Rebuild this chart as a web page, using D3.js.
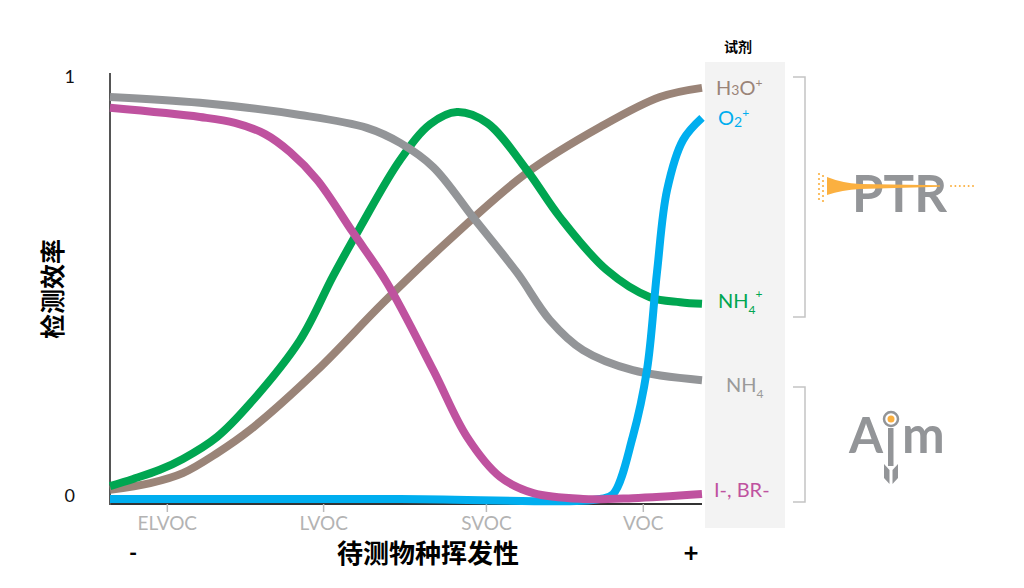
<!DOCTYPE html>
<html>
<head>
<meta charset="utf-8">
<script src="https://cdn.jsdelivr.net/npm/d3@7"></script>
<style>
  body { margin: 0; background: #fff; }
  text { font-family: Lato, "Noto Sans", sans-serif; }
  .cjk { font-family: "Noto Sans CJK SC", sans-serif; font-weight: 700; }
</style>
</head>
<body>
<div id="chart"></div>
<script>
var svgWidth = 1024;
var svgHeight = 588;

// volatility axis runs 0..100, efficiency 0..1
var categories = ["ELVOC", "LVOC", "SVOC", "VOC"];
var categoryPos = [9.6, 36, 63.5, 90];

var h3oX = [0, 6.8, 12.3, 18.1, 23.6, 35.0, 46.1, 56.9, 70.4, 82.8, 92.9, 100];
var h3oY = [0.022, 0.038, 0.062, 0.110, 0.165, 0.309, 0.470, 0.616, 0.782, 0.892, 0.964, 0.986];

var nh4pX = [0, 3.9, 8.4, 12.3, 18.1, 23.6, 32.1, 37.7, 42.2, 49.0, 54.1, 58.6, 63.7, 70.4, 76.0, 83.9, 91.2, 96.3, 100];
var nh4pY = [0.031, 0.048, 0.070, 0.096, 0.149, 0.228, 0.381, 0.535, 0.650, 0.813, 0.899, 0.928, 0.902, 0.789, 0.676, 0.549, 0.484, 0.472, 0.468];

var nh4X = [0, 15.2, 32.1, 43.4, 49.0, 54.6, 61.3, 68.8, 74.3, 79.9, 88.3, 100];
var nh4Y = [0.964, 0.950, 0.921, 0.890, 0.854, 0.796, 0.676, 0.542, 0.429, 0.357, 0.309, 0.285];

var o2X = [0, 49.0, 82.8, 85.0, 88.3, 90.7, 92.4, 94.1, 96.8, 100];
var o2Y = [0, 0, 0, 0.012, 0.149, 0.309, 0.544, 0.741, 0.861, 0.914];

var iBrX = [0, 15.2, 21.1, 26.2, 30.4, 35.0, 41.0, 46.8, 54.6, 60.3, 65.9, 71.5, 79.9, 88.3, 100];
var iBrY = [0.938, 0.916, 0.902, 0.875, 0.832, 0.765, 0.640, 0.518, 0.309, 0.149, 0.053, 0.014, 0.0, 0.002, 0.012];

var series = [
    {name: "H3O+", xs: h3oX, ys: h3oY, color: "#9a8478"},
    {name: "NH4+", xs: nh4pX, ys: nh4pY, color: "#00a651"},
    {name: "NH4", xs: nh4X, ys: nh4Y, color: "#939598"},
    {name: "O2+", xs: o2X, ys: o2Y, color: "#00aeef"},
    {name: "I-, BR-", xs: iBrX, ys: iBrY, color: "#bf529f"}
];

var svg = d3.select("#chart")
    .append("svg")
    .attr("width", svgWidth)
    .attr("height", svgHeight);

var xScale = d3.scaleLinear().domain([0, 100]).range([110, 702]);
var yScale = d3.scaleLinear().domain([0, 1]).range([499, 82]);

// reagent panel
svg.append("rect")
    .attr("x", 705).attr("y", 62)
    .attr("width", 80).attr("height", 466)
    .attr("fill", "#f3f3f3");

svg.append("text")
    .attr("class", "cjk")
    .attr("x", 738).attr("y", 52)
    .attr("text-anchor", "middle")
    .attr("font-size", 14)
    .text("试剂");

// x axis
var bottomAxis = d3.axisBottom(xScale)
    .tickValues(categoryPos)
    .tickFormat((d, i) => categories[i])
    .tickSize(8)
    .tickPadding(5);

var xAxis = svg.append("g")
    .attr("transform", `translate(0, ${yScale(0) + 5})`)
    .call(bottomAxis);
xAxis.select(".domain").attr("stroke", "#333").attr("stroke-width", 2)
    .attr("d", `M${xScale(0)},0H${xScale(100)}`);
xAxis.selectAll(".tick line").attr("stroke", "#bbb").attr("stroke-width", 1.5);
xAxis.selectAll(".tick text")
    .attr("fill", "#b3b3b3")
    .attr("font-size", 19)
    .attr("font-family", "Lato, sans-serif");

// y axis
var leftAxis = d3.axisLeft(yScale)
    .tickValues([0, 1])
    .tickFormat(d3.format("d"))
    .tickSize(0)
    .tickPadding(35);

var yAxis = svg.append("g")
    .attr("transform", `translate(${xScale(0)}, 0)`)
    .call(leftAxis);
yAxis.select(".domain").remove();
yAxis.selectAll(".tick text")
    .attr("fill", "#111")
    .attr("font-size", 18)
    .attr("font-family", "Lato, sans-serif");
yAxis.selectAll(".tick").filter(d => d === 1).select("text").attr("dy", "0");
yAxis.selectAll(".tick").filter(d => d === 0).select("text").attr("dy", "0.15em");

svg.append("line")
    .attr("x1", xScale(0)).attr("x2", xScale(0))
    .attr("y1", 73).attr("y2", yScale(0) + 6)
    .attr("stroke", "#555").attr("stroke-width", 2);

// curves
var line = d3.line()
    .x(d => xScale(d[0]))
    .y(d => yScale(d[1]))
    .curve(d3.curveCatmullRom.alpha(0.5));

svg.append("g").selectAll("path")
    .data(series)
    .enter()
    .append("path")
    .attr("d", s => line(s.xs.map((x, i) => [x, s.ys[i]])))
    .attr("fill", "none")
    .attr("stroke", s => s.color)
    .attr("stroke-width", 8)
    .attr("stroke-linecap", "butt");

// reagent labels
var lab = svg.append("g").attr("font-size", 20).attr("font-weight", 400);

var t = lab.append("text").attr("x", 716).attr("y", 95).attr("fill", "#9a8478");
t.append("tspan").text("H");
t.append("tspan").attr("font-size", 14).text("3");
t.append("tspan").text("O");
t.append("tspan").attr("font-size", 12).attr("dy", -8).text("+");

t = lab.append("text").attr("x", 718).attr("y", 125).attr("fill", "#00aeef");
t.append("tspan").text("O");
t.append("tspan").attr("font-size", 14).attr("dy", 2).text("2");
t.append("tspan").attr("font-size", 12).attr("dy", -10).text("+");

t = lab.append("text").attr("x", 718).attr("y", 308).attr("fill", "#00a651");
t.append("tspan").text("NH");
t.append("tspan").attr("font-size", 12).attr("dy", 6).text("4");
t.append("tspan").attr("font-size", 12).attr("dy", -16).text("+");

t = lab.append("text").attr("x", 726).attr("y", 392).attr("fill", "#9a9a9a");
t.append("tspan").text("NH");
t.append("tspan").attr("font-size", 12).attr("dy", 6).text("4");

lab.append("text").attr("x", 714).attr("y", 497).attr("fill", "#bf529f").text("I-, BR-");

// brackets
var bracket = d3.path();
bracket.moveTo(793, 77); bracket.lineTo(805, 77); bracket.lineTo(805, 317); bracket.lineTo(793, 317);
bracket.moveTo(793, 387); bracket.lineTo(805, 387); bracket.lineTo(805, 502); bracket.lineTo(793, 502);
svg.append("path").attr("d", bracket.toString())
    .attr("fill", "none").attr("stroke", "#c4c4c4").attr("stroke-width", 1.5);

// PTR logo
var ptr = svg.append("g");
ptr.append("text")
    .attr("x", 852).attr("y", 212)
    .attr("font-family", "Liberation Sans, Arial, sans-serif")
    .attr("font-weight", 700)
    .attr("font-size", 51)
    .attr("fill", "#939598")
    .text("PTR");
ptr.append("path")
    .attr("d", "M827,177 Q842,183 860,184 L940,185.3 L940,186.7 L860,189 Q842,190 827,195 Z")
    .attr("fill", "#fbb040");
[819, 823].forEach(function(cx) {
    d3.range(0, 6).forEach(function(k) {
        ptr.append("circle").attr("cx", cx).attr("cy", 174 + k * 5 + (cx === 823 ? 2 : 0)).attr("r", 1.1).attr("fill", "#fbb040");
    });
});
d3.range(0, 6).forEach(function(k) {
    ptr.append("circle").attr("cx", 951 + k * 4.4).attr("cy", 186).attr("r", 1).attr("fill", "#fbb040");
});

// Aim logo
var aim = svg.append("g").attr("fill", "#939598");
aim.append("text")
    .attr("x", 849).attr("y", 453)
    .attr("font-family", "Lato, sans-serif")
    .attr("font-weight", 700)
    .attr("font-size", 49)
    .text("A");
aim.append("text")
    .attr("x", 902).attr("y", 453)
    .attr("font-family", "Lato, sans-serif")
    .attr("font-weight", 700)
    .attr("font-size", 51)
    .text("m");
aim.append("rect").attr("x", 888).attr("y", 428).attr("width", 5.5).attr("height", 38);
aim.append("circle").attr("cx", 891).attr("cy", 419).attr("r", 7)
    .attr("fill", "none").attr("stroke", "#939598").attr("stroke-width", 2.5);
aim.append("circle").attr("cx", 891).attr("cy", 419).attr("r", 3.5).attr("fill", "#fbb040");
aim.append("path").attr("d", "M884,464 L889.5,470 L889.5,484 L884,478 Z");
aim.append("path").attr("d", "M898,464 L892.5,470 L892.5,484 L898,478 Z");

// axis titles
svg.append("text")
    .attr("class", "cjk")
    .attr("transform", "translate(62, 289) rotate(-90)")
    .attr("text-anchor", "middle")
    .attr("font-size", 25)
    .text("检测效率");

svg.append("text")
    .attr("class", "cjk")
    .attr("x", 428).attr("y", 563)
    .attr("text-anchor", "middle")
    .attr("font-size", 26)
    .text("待测物种挥发性");

svg.append("text")
    .attr("x", 133).attr("y", 561)
    .attr("text-anchor", "middle")
    .attr("font-size", 22).attr("font-weight", 700)
    .text("-");

svg.append("text")
    .attr("x", 691).attr("y", 562)
    .attr("text-anchor", "middle")
    .attr("font-size", 26).attr("font-weight", 700)
    .text("+");
</script>
</body>
</html>
